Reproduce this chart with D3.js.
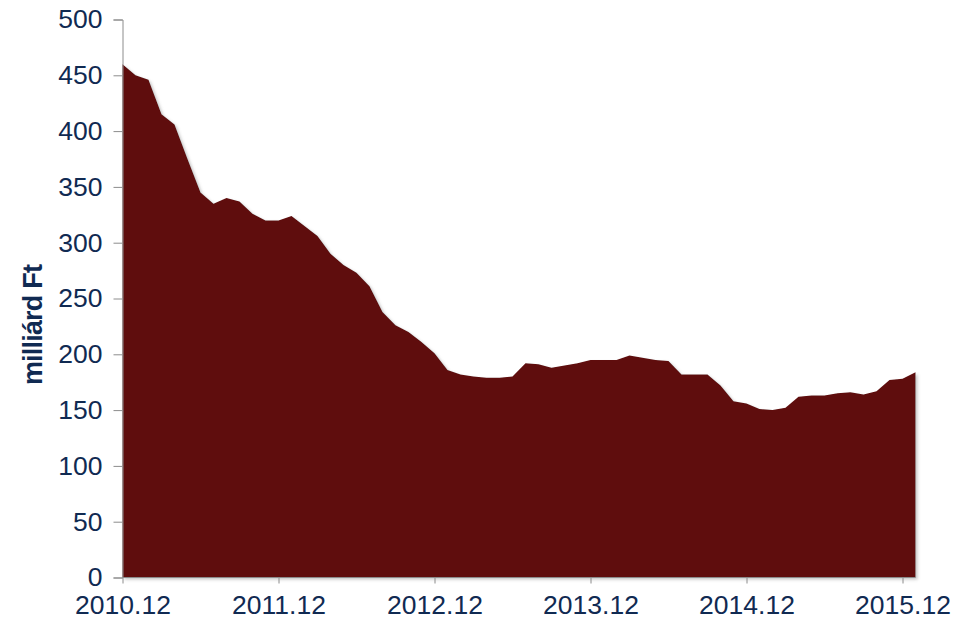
<!DOCTYPE html>
<html>
<head>
<meta charset="utf-8">
<script src="https://cdn.jsdelivr.net/npm/d3@7"></script>
<style>
  html, body { margin: 0; padding: 0; background: #fff; }
  svg { display: block; }
  text { font-family: "Liberation Sans", Arial, sans-serif; fill: #102a52; }
</style>
</head>
<body>
<svg id="chart" width="962" height="628"></svg>
<script>
// Monthly series, 2010.12 .. 2016.01 (milliárd Ft)
const months = [
  "2010.12","2011.01","2011.02","2011.03","2011.04","2011.05","2011.06","2011.07","2011.08","2011.09","2011.10","2011.11",
  "2011.12","2012.01","2012.02","2012.03","2012.04","2012.05","2012.06","2012.07","2012.08","2012.09","2012.10","2012.11",
  "2012.12","2013.01","2013.02","2013.03","2013.04","2013.05","2013.06","2013.07","2013.08","2013.09","2013.10","2013.11",
  "2013.12","2014.01","2014.02","2014.03","2014.04","2014.05","2014.06","2014.07","2014.08","2014.09","2014.10","2014.11",
  "2014.12","2015.01","2015.02","2015.03","2015.04","2015.05","2015.06","2015.07","2015.08","2015.09","2015.10","2015.11",
  "2015.12","2016.01"
];
const values = [
  460, 450, 446, 415, 406, 375, 345, 335, 340, 337, 326, 320,
  320, 324, 315, 306, 290, 280, 273, 261, 238, 226, 220, 211,
  201, 186, 182, 180, 179, 179, 180, 192, 191, 188, 190, 192,
  195, 195, 195, 199, 197, 195, 194, 182, 182, 182, 172, 158,
  156, 151, 150, 152, 162, 163, 163, 165, 166, 164, 167, 177,
  178, 184
];
const xTickLabels = ["2010.12","2011.12","2012.12","2013.12","2014.12","2015.12"];
const yTicks = [0, 50, 100, 150, 200, 250, 300, 350, 400, 450, 500];
const yTitle = "milliárd Ft";

const svg = d3.select("#chart");
const mLeft = 122.5, mRight = 915.5, mTop = 19.5, mBottom = 577.5;

const x = d3.scalePoint().domain(months).range([mLeft, mRight]);
const y = d3.scaleLinear().domain([0, 500]).range([mBottom, mTop]);

const defs = svg.append("defs");
const f = defs.append("filter").attr("id", "shadow")
  .attr("x", "-5%").attr("y", "-5%").attr("width", "115%").attr("height", "115%");
f.append("feDropShadow").attr("dx", 2).attr("dy", 2).attr("stdDeviation", 1.5)
  .attr("flood-color", "#808080").attr("flood-opacity", 0.45);

const data = months.map((m, i) => ({ m, v: values[i] }));

svg.append("path")
  .datum(data)
  .attr("fill", "#5e0f0f")
  .attr("filter", "url(#shadow)")
  .attr("d", d3.area().x(d => x(d.m)).y0(y(0)).y1(d => y(d.v)));

// Y axis
const yAxis = svg.append("g")
  .attr("transform", `translate(${mLeft},0)`)
  .call(d3.axisLeft(y).tickValues(yTicks).tickSize(9).tickPadding(11).tickFormat(d3.format("d")));
yAxis.select(".domain").attr("stroke", "#8c8c8c");
yAxis.selectAll(".tick line").attr("stroke", "#8c8c8c");
yAxis.selectAll("text").style("font-size", "26.5px").attr("fill", "#102a52");

// X axis
const xAxis = svg.append("g")
  .attr("transform", `translate(0,${mBottom})`)
  .call(d3.axisBottom(x).tickValues(xTickLabels).tickSize(6).tickPadding(12));
xAxis.select(".domain").attr("stroke", "#8c8c8c").attr("d", `M${mLeft},0H${mRight}`);
xAxis.selectAll(".tick line").attr("stroke", "#8c8c8c");
xAxis.selectAll("text").style("font-size", "26.5px").attr("fill", "#102a52");

// Y title
svg.append("text")
  .attr("transform", `translate(42,325) rotate(-90)`)
  .attr("text-anchor", "middle")
  .style("font-size", "27px")
  .style("font-weight", "bold")
  .style("letter-spacing", "-0.8px")
  .text(yTitle);
</script>
</body>
</html>
